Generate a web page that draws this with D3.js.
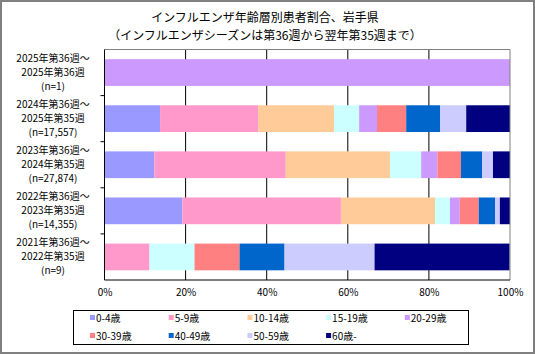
<!DOCTYPE html>
<html>
<head>
<meta charset="utf-8">
<script src="https://cdn.jsdelivr.net/npm/d3@7"></script>
<style>
  body { margin: 0; background: #fff; }
  text { font-family: "Noto Sans CJK JP", sans-serif; fill: #000; }
</style>
</head>
<body>
<div id="chart"></div>
<script>
const AGE_GROUPS = ["0-4歳", "5-9歳", "10-14歳", "15-19歳", "20-29歳", "30-39歳", "40-49歳", "50-59歳", "60歳-"];
const COLORS = ["#9999FF", "#FF99CC", "#FFCC99", "#CCFFFF", "#CC99FF", "#FF8080", "#0066CC", "#CCCCFF", "#000080"];

const SEASONS = [
  ["2025年第36週～", "2025年第36週", "(n=1)"],
  ["2024年第36週～", "2025年第35週", "(n=17,557)"],
  ["2023年第36週～", "2024年第35週", "(n=27,874)"],
  ["2022年第36週～", "2023年第35週", "(n=14,355)"],
  ["2021年第36週～", "2022年第35週", "(n=9)"],
];

// percent share per age group, same order as AGE_GROUPS
const SHARE_2025 = [0, 0, 0, 0, 100, 0, 0, 0, 0];
const SHARE_2024 = [13.7, 24.2, 18.7, 6.2, 4.4, 7.2, 8.4, 6.4, 10.8];
const SHARE_2023 = [12.3, 32.4, 25.7, 7.7, 4.0, 5.8, 5.2, 2.7, 4.2];
const SHARE_2022 = [19.2, 39.1, 23.2, 3.7, 2.4, 4.7, 4.0, 1.2, 2.5];
const SHARE_2021 = [0, 11.1, 0, 11.1, 0, 11.1, 11.1, 22.2, 33.3];

const X_TICKS = [0, 20, 40, 60, 80, 100];

const width = 535, height = 354;
const margin = { top: 49.5, right: 25, bottom: 74, left: 104.5 };

const svg = d3.select("#chart").append("svg")
  .attr("width", width)
  .attr("height", height);

svg.append("rect")
  .attr("x", 1).attr("y", 1)
  .attr("width", width - 2).attr("height", height - 2)
  .attr("fill", "#fff")
  .attr("stroke", "#808080")
  .attr("stroke-width", 2);

svg.append("text")
  .attr("x", 265).attr("y", 22)
  .attr("text-anchor", "middle")
  .attr("font-size", 12)
  .text("インフルエンザ年齢層別患者割合、岩手県");

svg.append("text")
  .attr("x", 265).attr("y", 40)
  .attr("text-anchor", "middle")
  .attr("font-size", 12)
  .text("（インフルエンザシーズンは第36週から翌年第35週まで）");

const rows = [SHARE_2025, SHARE_2024, SHARE_2023, SHARE_2022, SHARE_2021].map((shares, i) => {
  const row = { key: i };
  AGE_GROUPS.forEach((g, j) => { row[g] = shares[j]; });
  return row;
});

const x = d3.scaleLinear().domain([0, 100]).range([margin.left, width - margin.right]);
const y = d3.scaleBand().domain(rows.map(d => d.key))
  .range([margin.top, height - margin.bottom])
  .paddingInner(0.42).paddingOuter(0.21);

const stack = d3.stack().keys(AGE_GROUPS)(rows);

// gridlines behind the bars
svg.append("g")
  .selectAll("line")
  .data(X_TICKS.slice(1, -1))
  .join("line")
  .attr("x1", d => x(d)).attr("x2", d => x(d))
  .attr("y1", margin.top).attr("y2", height - margin.bottom)
  .attr("stroke", "#000");

svg.append("g")
  .selectAll("g")
  .data(stack)
  .join("g")
  .attr("fill", (d, i) => COLORS[i])
  .selectAll("rect")
  .data(d => d)
  .join("rect")
  .attr("x", d => x(d[0]))
  .attr("width", d => x(d[1]) - x(d[0]))
  .attr("y", d => y(d.data.key))
  .attr("height", y.bandwidth());

// plot frame: grey top/right, black axes
svg.append("path")
  .attr("d", `M${x(0)},${margin.top}H${x(100)}V${height - margin.bottom}`)
  .attr("fill", "none")
  .attr("stroke", "#808080");

svg.append("path")
  .attr("d", `M${x(0)},${margin.top}V${height - margin.bottom}H${x(100)}`)
  .attr("fill", "none")
  .attr("stroke", "#000");

// category boundary ticks on the y axis
const step = (height - margin.bottom - margin.top) / rows.length;
svg.append("g")
  .selectAll("line")
  .data(d3.range(1, rows.length))
  .join("line")
  .attr("x1", x(0) - 4).attr("x2", x(0))
  .attr("y1", d => margin.top + d * step).attr("y2", d => margin.top + d * step)
  .attr("stroke", "#000");

svg.append("g")
  .attr("transform", `translate(0,${height - margin.bottom})`)
  .call(d3.axisBottom(x).tickValues(X_TICKS).tickSize(0).tickPadding(9).tickFormat(d => `${d}%`))
  .call(g => g.select(".domain").remove())
  .call(g => g.selectAll("text").attr("font-size", 10).attr("font-family", "\"Noto Sans CJK JP\", sans-serif"));

const yLabels = svg.append("g")
  .selectAll("text")
  .data(rows)
  .join("text")
  .attr("text-anchor", "middle")
  .attr("font-size", 10)
  .attr("x", 53)
  .attr("y", d => y(d.key) + y.bandwidth() / 2 + 3.5);

yLabels.selectAll("tspan")
  .data(d => SEASONS[d.key].map((t, k) => ({ t, k })))
  .join("tspan")
  .attr("x", 53)
  .attr("dy", d => d.k === 0 ? -14 : 14)
  .text(d => d.t);

// legend
const legend = svg.append("g");
legend.append("rect")
  .attr("x", 73.5).attr("y", 310.5)
  .attr("width", 395).attr("height", 34)
  .attr("fill", "#fff")
  .attr("stroke", "#000");

const item = legend.selectAll("g")
  .data(AGE_GROUPS)
  .join("g")
  .attr("transform", (d, i) => `translate(${90 + (i % 5) * 78.7},${i < 5 ? 318 : 336})`);

item.append("rect")
  .attr("x", 0).attr("y", -3)
  .attr("width", 5).attr("height", 5)
  .attr("fill", (d, i) => COLORS[i]);

item.append("text")
  .attr("x", 6).attr("y", 3.5)
  .attr("font-size", 10)
  .text(d => d);
</script>
</body>
</html>
